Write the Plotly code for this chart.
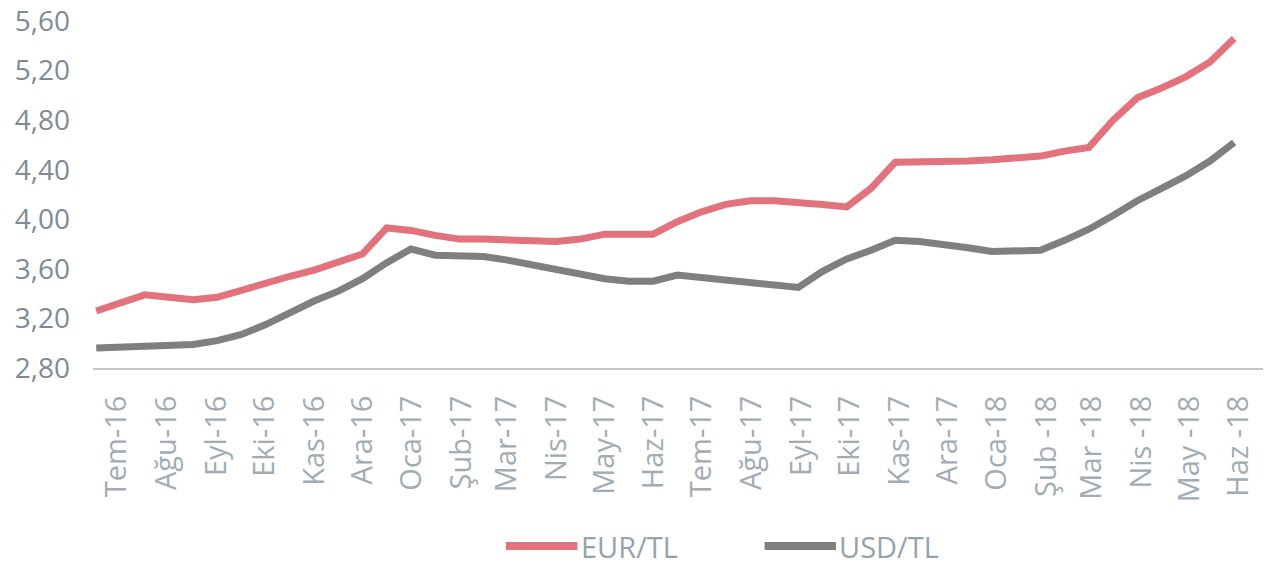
import pandas as pd
import plotly.graph_objects as go

# Tick labels (months) shown on the x axis
month_labels = ["Tem-16", "Ağu-16", "Eyl-16", "Eki-16", "Kas-16", "Ara-16",
                "Oca-17", "Şub-17", "Mar-17", "Nis-17", "May-17", "Haz-17",
                "Tem-17", "Ağu-17", "Eyl-17", "Eki-17", "Kas-17", "Ara-17",
                "Oca-18", "Şub -18", "Mar -18", "Nis -18", "May -18", "Haz -18"]
month_ticks = pd.date_range("2016-07-01", periods=24, freq="MS") + pd.Timedelta(days=15)

# Semi-monthly observation dates
obs_dates = pd.date_range("2016-07-03", "2018-06-13", periods=48)

eur_tl = [3.26, 3.32, 3.39, 3.37, 3.35, 3.37, 3.43, 3.48, 3.54, 3.59, 3.65, 3.72,
          3.93, 3.91, 3.87, 3.84, 3.84, 3.83, 3.82, 3.82, 3.84, 3.88, 3.88, 3.88,
          3.98, 4.06, 4.12, 4.15, 4.15, 4.14, 4.12, 4.10, 4.25, 4.46, 4.46, 4.46,
          4.47, 4.48, 4.49, 4.51, 4.55, 4.58, 4.80, 4.98, 5.06, 5.15, 5.27, 5.46]

usd_tl = [2.96, 2.97, 2.97, 2.98, 2.99, 3.02, 3.07, 3.15, 3.25, 3.34, 3.42, 3.52,
          3.65, 3.76, 3.71, 3.70, 3.70, 3.67, 3.63, 3.59, 3.55, 3.52, 3.50, 3.50,
          3.55, 3.53, 3.51, 3.48, 3.46, 3.45, 3.58, 3.68, 3.75, 3.83, 3.82, 3.80,
          3.77, 3.74, 3.74, 3.75, 3.83, 3.92, 4.03, 4.15, 4.25, 4.35, 4.47, 4.62]

y_ticks = [2.80, 3.20, 3.60, 4.00, 4.40, 4.80, 5.20, 5.60]

EUR_COLOR = "#E2737C"
USD_COLOR = "#7F7F7F"
TEXT_COLOR = "#97A3AC"

fig = go.Figure()
fig.add_trace(go.Scatter(x=obs_dates, y=eur_tl, mode="lines", name="EUR/TL",
                         line=dict(color=EUR_COLOR, width=7), showlegend=False))
fig.add_trace(go.Scatter(x=obs_dates, y=usd_tl, mode="lines", name="USD/TL",
                         line=dict(color=USD_COLOR, width=7), showlegend=False))

# Manual legend (long line samples like the original)
legend_items = [("EUR/TL", EUR_COLOR, 0.353), ("USD/TL", USD_COLOR, 0.574)]
for name, color, x0 in legend_items:
    fig.add_shape(type="line", xref="paper", yref="paper",
                  x0=x0, x1=x0 + 0.061, y0=-0.513, y1=-0.513,
                  line=dict(color=color, width=8))
    fig.add_annotation(text=name, xref="paper", yref="paper",
                       x=x0 + 0.062, y=-0.513, xanchor="left", yanchor="middle",
                       showarrow=False, font=dict(size=29, color=TEXT_COLOR,
                                                  family="Open Sans"))

fig.update_layout(
    width=1269, height=569,
    margin=dict(l=93, r=6, t=21, b=201),
    paper_bgcolor="white", plot_bgcolor="white",
    separators=",.",
    font=dict(family="Open Sans", color=TEXT_COLOR),
    xaxis=dict(
        type="date",
        range=["2016-07-01", "2018-07-01"],
        tickmode="array", tickvals=month_ticks, ticktext=month_labels,
        tickangle=-90, tickfont=dict(size=29, color="#A2ACB3"),
        showgrid=False, zeroline=False,
        showline=True, linecolor="#C4C4C4", linewidth=2,
        ticks="", ticklabelstandoff=14, automargin=False,
    ),
    yaxis=dict(
        range=[2.7995, 5.6005],
        tickmode="array", tickvals=y_ticks, tickformat=".2f",
        tickfont=dict(size=28, color="#7E8B95"),
        showgrid=False, zeroline=False, showline=False,
        ticks="", ticklabelstandoff=22, ticklabeloverflow="allow",
        automargin=False,
    ),
)

fig.write_html("out.html")
